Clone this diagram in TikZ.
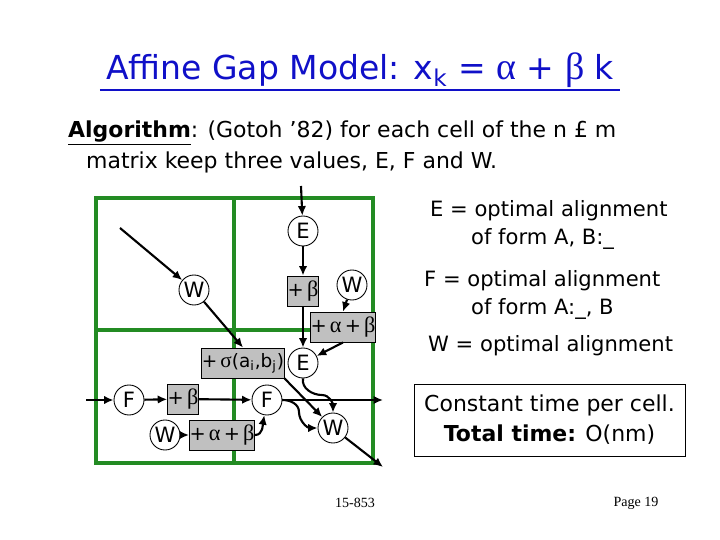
\documentclass[tikz,border=0pt]{standalone}
\usepackage{fontspec}
\setmainfont{DejaVu Sans}
\newfontfamily\grk[Scale=1.15]{Liberation Serif}
\newfontfamily\footfont{Liberation Serif}
\usetikzlibrary{arrows.meta}
\definecolor{cellgreen}{HTML}{238B23}
\definecolor{titleblue}{HTML}{1010C8}
\definecolor{opgray}{HTML}{C0C0C0}

\begin{document}
\begin{tikzpicture}[x=0.02cm, y=-0.02cm, font=\fontsize{12}{14}\selectfont,
  st/.style={circle, draw, fill=white, minimum size=0.6cm, inner sep=0pt, line width=0.5pt},
  op/.style={draw, fill=opgray, minimum height=0.6cm, inner sep=0pt, line width=0.5pt, font=\fontsize{11}{13}\selectfont},
  arr/.style={-{Latex[length=1.9mm,width=1.7mm]}, line width=1.2pt},
  txt/.style={anchor=west, font=\fontsize{12}{14}\selectfont}
]
  \useasboundingbox (0,0) rectangle (720,540);

  \node[font=\fontsize{18.8}{21}\selectfont, text=titleblue, inner ysep=1.5pt] (title) at (360,70) {Affine Gap Model: x\textsubscript{k} = {\grk α} + {\grk β} k};
  \draw[titleblue, line width=1.1pt] (title.south west) -- (title.south east);
  \node[txt, font=\fontsize{12.5}{14}\selectfont] (alg1) at (62,133) {\underline{\textbf{Algorithm}}: (Gotoh ’82) for each cell of the n £ m};
  \node[txt, font=\fontsize{12.5}{14}\selectfont] (alg2) at (80,162) {matrix keep three values, E, F and W.};

  \draw[cellgreen, line width=2.2pt] (96,198) rectangle (373,463);
  \draw[cellgreen, line width=2.2pt] (234,198) -- (234,463);
  \draw[cellgreen, line width=2.2pt] (96,330) -- (373,330);

  \coordinate (inE) at (301,186);
  \coordinate (inW) at (120,228);
  \coordinate (inF) at (86,400);
  \coordinate (outF) at (383,400);
  \coordinate (outW) at (383,467);

  \node[st] (E1) at (303,231) {E};
  \node[op, minimum width=0.6cm] (pb1) at (303,291) {+\,{\grk β}};
  \node[st] (W2) at (352,285) {W};
  \node[op, minimum width=1.2cm] (pab1) at (343,327) {+\,{\grk α}\,+\,{\grk β}};
  \node[st] (E2) at (303,363) {E};
  \node[st] (W1) at (194,290) {W};
  \node[op, minimum width=1.56cm, font=\fontsize{10.5}{12}\selectfont] (sig) at (243,363) {+\,{\grk σ}(a\textsubscript{i},b\textsubscript{j})};
  \node[st] (F1) at (129,400) {F};
  \node[op, minimum width=0.6cm] (pb2) at (183,399) {+\,{\grk β}};
  \node[st] (F2) at (267,400) {F};
  \node[st] (W3) at (165,435) {W};
  \node[op, minimum width=1.2cm] (pab2) at (222,435) {+\,{\grk α}\,+\,{\grk β}};
  \node[st] (W4) at (333,428) {W};

  \draw[arr] (inE) -- (E1);
  \draw[arr] (E1) -- (pb1);
  \draw[arr] (pb1) -- (E2);
  \draw[arr] (W2) -- (pab1.north);
  \draw[arr] (pab1.south) -- (E2);
  \draw[arr] (inW) -- (W1);
  \draw[arr] (W1) -- (sig.north);
  \draw[arr] (inF) -- (F1);
  \draw[arr] (F1) -- (pb2);
  \draw[arr] (pb2) -- (F2);
  \draw[arr] (F2) -- (outF);
  \draw[arr] (W3) -- (pab2);
  \draw[arr] (pab2.east) to[out=0, in=-100] (F2);
  \draw[arr] (sig.south east) -- (W4);
  \draw[arr] (E2.south) to[out=-100, in=180] (322,395) to[out=0, in=90] (W4.north);
  \draw[arr] (F2.east) to[out=0, in=90] (299,412) to[out=-90, in=180] (W4.west);
  \draw[arr] (W4) -- (outW);

  \node[txt] (edef1) at (424,211) {E = optimal alignment};
  \node[txt] (edef2) at (465,239) {of form A, B:\_};
  \node[txt] (fdef1) at (418,281) {F = optimal alignment};
  \node[txt] (fdef2) at (465,309) {of form A:\_, B};
  \node[txt] (wdef) at (422,346) {W = optimal alignment};

  \node[draw, line width=0.5pt, minimum width=5.42cm, minimum height=1.44cm, align=center, font=\fontsize{12.5}{17}\selectfont] (ctime) at (549.5,420) {Constant time per cell.\\\textbf{Total time:} O(nm)};

  \node[font=\footfont\fontsize{8}{9}\selectfont] (crs) at (355,503) {15-853};
  \node[font=\footfont\fontsize{8}{9}\selectfont] (pg) at (636,503) {Page 19};
\end{tikzpicture}
\end{document}
